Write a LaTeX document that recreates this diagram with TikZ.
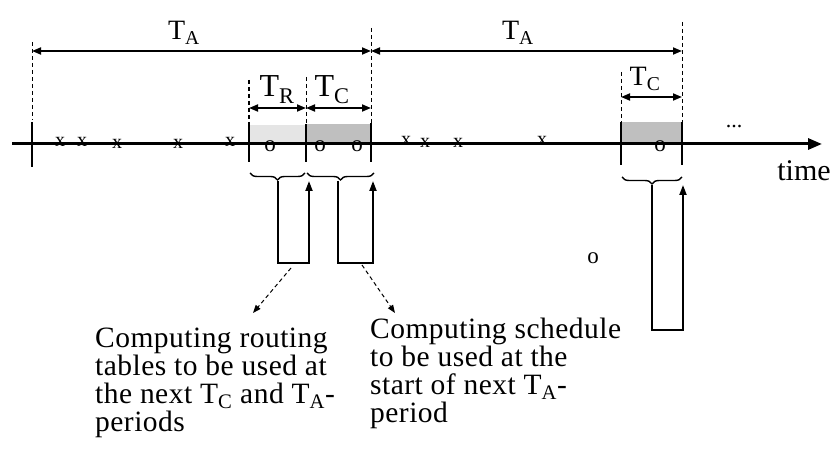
\documentclass[tikz,border=0pt]{standalone}
\usepackage{fontspec}
\setmainfont{Liberation Serif}
\newfontfamily\notefont[LetterSpace=1.6]{Liberation Serif}
\usetikzlibrary{arrows.meta,decorations.pathreplacing}
\begin{document}
\begin{tikzpicture}[x=1pt,y=-1pt,
  axis/.style={line width=3pt},
  dim/.style={line width=1.8pt,{Triangle[length=9pt,width=7pt]}-{Triangle[length=9pt,width=7pt]}},
  guide/.style={line width=0.9pt,dash pattern=on 4pt off 3pt},
  bound/.style={line width=2.4pt},
  thinbound/.style={line width=1.6pt},
  conn/.style={line width=2pt,-{Triangle[length=10pt,width=7pt]}},
  note/.style={line width=1pt,dash pattern=on 4pt off 3pt,-{Triangle[length=8pt,width=6pt]}},
  brc/.style={decorate,decoration={brace,mirror,amplitude=7pt},line width=1.4pt},
  bigl/.style={inner sep=0pt,anchor=base,font=\fontsize{28}{28}\selectfont},
  midl/.style={inner sep=0pt,anchor=base,font=\fontsize{32}{32}\selectfont},
  ev/.style={inner sep=0pt,font=\fontsize{20}{20}\selectfont},
  evo/.style={inner sep=0pt,font=\fontsize{23}{23}\selectfont},
  txt/.style={inner sep=0pt,anchor=base west,align=left,font=\notefont\fontsize{29.5}{28.3}\selectfont},
  ]
\useasboundingbox (0,0) rectangle (839,470);
% shaded periods
\fill[gray!20] (249,125) rectangle (306,144);
\fill[gray!50] (306,124) rectangle (371,144);
\fill[gray!50] (621,122) rectangle (682,144);
% guides
\draw[guide] (32,42) -- (32,120);
\draw[guide] (371,28) -- (371,123);
\draw[guide,line width=1.5pt] (249,80) -- (249,125);
\draw[guide] (306,77) -- (306,124);
\draw[guide] (682,22) -- (682,122);
\draw[guide] (621,72) -- (621,122);
% axis
\draw[axis,-{Triangle[length=14pt,width=11pt]}] (12,144) -- (822,144);
\draw[thinbound] (32,122) -- (32,167);
\draw[thinbound] (249,124) -- (249,162);
\draw[bound] (306,124) -- (306,162);
\draw[bound] (371,123) -- (371,162);
\draw[thinbound] (621,122) -- (621,165);
\draw[thinbound] (682,122) -- (682,165);
% dimension arrows
\draw[dim] (32,51) -- (371,51);
\draw[dim] (371,51) -- (682,51);
\draw[dim] (249,108) -- (306,108);
\draw[dim] (306,108) -- (371,108);
\draw[dim] (621,97) -- (682,97);
\node[bigl] (ta1) at (184,40) {T\textsubscript{A}};
\node[bigl] (ta2) at (518,40) {T\textsubscript{A}};
\node[midl] (tr) at (277,97) {T\textsubscript{R}};
\node[midl] (tc1) at (332,97) {T\textsubscript{C}};
\node[bigl] (tc2) at (645,86) {T\textsubscript{C}};
% events
\node[ev] (x1) at (60,142) {x};
\node[ev] (x2) at (82,142) {x};
\node[ev] (x3) at (117,144) {x};
\node[ev] (x4) at (178,144) {x};
\node[ev] (x5) at (230,142) {x};
\node[ev] (x6) at (406,141) {x};
\node[ev] (x7) at (425,143) {x};
\node[ev] (x8) at (458,143) {x};
\node[ev] (x9) at (542,141) {x};
\node[evo] (o1) at (270,146) {o};
\node[evo] (o2) at (320,146) {o};
\node[evo] (o3) at (357,146) {o};
\node[evo] (o4) at (660,146) {o};
\node[evo] (o5) at (593,258) {o};
\node[inner sep=0pt,anchor=base,font=\fontsize{22}{22}\selectfont] (dots) at (734,128) {...};
\node[inner sep=0pt,anchor=base,font=\fontsize{30}{30}\selectfont] (time) at (804,181) {time};
% braces
\draw[brc] (250,173) -- (305,173);
\draw[brc] (307,173) -- (374,173);
\draw[brc] (622,177) -- (682,177);
% connectors
\coordinate (b1) at (278,181);
\coordinate (c1) at (309,181);
\coordinate (b2) at (338,181);
\coordinate (c2) at (373,181);
\coordinate (b3) at (652,185);
\coordinate (c3) at (683,185);
\draw[conn] (b1) -- (278,263) -| (c1);
\draw[conn] (b2) -- (338,263) -| (c2);
\draw[conn] (b3) -- (652,330) -| (c3);
% notes
\node[txt] (n1) at (95,432) {Computing routing\\tables to be used at\\the next T\textsubscript{C} and T\textsubscript{A}-\\periods};
\node[txt] (n2) at (370,423) {Computing schedule\\to be used at the\\start of next T\textsubscript{A}-\\period};
\coordinate (a1) at (291,268);
\coordinate (a2) at (362,265);
\draw[note] (a1) -- (253,313);
\draw[note] (a2) -- (395,313);
\end{tikzpicture}
\end{document}
